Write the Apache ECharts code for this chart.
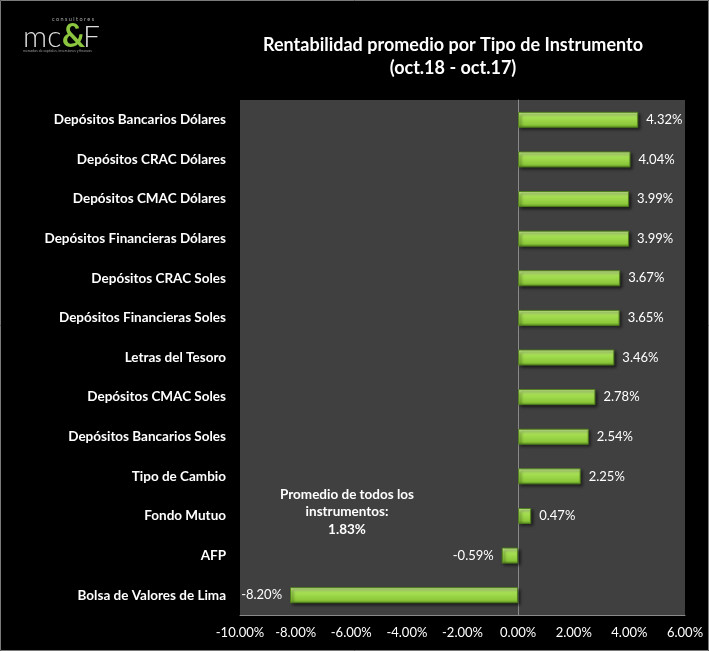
<!DOCTYPE html>
<html>
<head>
<meta charset="utf-8">
<style>
  html, body { margin: 0; padding: 0; background: #000; }
  #chart { width: 709px; height: 651px; }
</style>
<script src="https://cdn.jsdelivr.net/npm/echarts@6/dist/echarts.min.js"></script>
</head>
<body>
<div id="chart"></div>
<script>
const myChart = echarts.init(document.getElementById('chart'));

// categorias, de arriba hacia abajo
const instrumentos = [
  'Depósitos Bancarios Dólares',
  'Depósitos CRAC Dólares',
  'Depósitos CMAC Dólares',
  'Depósitos Financieras Dólares',
  'Depósitos CRAC Soles',
  'Depósitos Financieras Soles',
  'Letras del Tesoro',
  'Depósitos CMAC Soles',
  'Depósitos Bancarios Soles',
  'Tipo de Cambio',
  'Fondo Mutuo',
  'AFP',
  'Bolsa de Valores de Lima'
];
const rentabilidad = [4.32, 4.04, 3.99, 3.99, 3.67, 3.65, 3.46, 2.78, 2.54, 2.25, 0.47, -0.59, -8.20];
const promedio = 1.83;

const barColor = {
  type: 'linear', x: 0, y: 0, x2: 0, y2: 1,
  colorStops: [
    { offset: 0, color: '#d2f59a' },
    { offset: 0.35, color: '#a6e052' },
    { offset: 0.8, color: '#8cc83a' },
    { offset: 1, color: '#5f9422' }
  ]
};

let option = {
  backgroundColor: '#000000',
  textStyle: { fontFamily: 'Lato' },
  title: {
    text: 'Rentabilidad promedio por Tipo de Instrumento\n(oct.18 - oct.17)',
    left: 448,
    top: 29,
    textAlign: 'center',
    textStyle: { color: '#ffffff', fontSize: 18, fontWeight: 'bold', lineHeight: 23, fontFamily: 'Lato' }
  },
  grid: {
    left: 240, right: 24, top: 100, bottom: 36,
    show: true, backgroundColor: '#404040', borderWidth: 0
  },
  xAxis: {
    type: 'value',
    min: -10, max: 6, interval: 2,
    splitLine: { show: false },
    axisLine: { show: true, onZero: false, lineStyle: { color: '#8a8a8a' } },
    axisTick: { show: false },
    axisLabel: {
      color: '#ffffff', fontSize: 13, margin: 11,
      formatter: v => v.toFixed(2) + '%'
    }
  },
  yAxis: {
    type: 'category',
    inverse: true,
    data: instrumentos,
    axisLine: { show: true, onZero: true, lineStyle: { color: '#8a8a8a' } },
    axisTick: { show: false },
    axisLabel: { show: false }
  },
  series: [
    {
      type: 'bar',
      // las negativas llevan la etiqueta a la izquierda
      data: rentabilidad.map(v => v < 0 ? { value: v, label: { position: 'left' } } : v),
      barWidth: 16,
      itemStyle: {
        color: barColor,
        borderColor: '#4f7d1c',
        borderWidth: 1,
        shadowColor: 'rgba(0,0,0,0.6)',
        shadowBlur: 3,
        shadowOffsetX: 2,
        shadowOffsetY: 2
      },
      label: {
        show: true,
        color: '#ffffff',
        fontSize: 13,
        distance: 8,
        position: 'right',
        formatter: p => p.value.toFixed(2) + '%'
      },
      z: 3
    }
  ]
};

myChart.setOption(option);

// etiquetas de categoria y textos extra
const graphics = instrumentos.map((nombre, i) => {
  const y = myChart.convertToPixel({ yAxisIndex: 0 }, i);
  return {
    type: 'text',
    x: 226, y: y,
    style: {
      text: nombre, fill: '#ffffff', font: 'bold 13.5px Lato',
      textAlign: 'right', textVerticalAlign: 'middle'
    }
  };
});

graphics.push({
  type: 'text',
  x: 347, y: 512,
  style: {
    text: 'Promedio de todos los\ninstrumentos:\n' + promedio.toFixed(2) + '%',
    fill: '#ffffff', font: 'bold 13.5px Lato', lineHeight: 17.5,
    textAlign: 'center', textVerticalAlign: 'middle'
  }
});

// logo
graphics.push(
  {
    type: 'text', x: 52, y: 19,
    style: { text: 'c o n s u l t o r e s', fill: '#aaaaaa', font: '5.5px Lato', textVerticalAlign: 'middle' }
  },
  {
    type: 'text', x: 23, y: 37,
    style: { text: 'mc', fill: '#dddddd', font: '300 30px Lato', textVerticalAlign: 'middle' }
  },
  {
    type: 'text', x: 62, y: 37,
    style: { text: '&', fill: '#8cc63f', font: 'bold 32px Lato', textVerticalAlign: 'middle' }
  },
  {
    type: 'text', x: 83, y: 37,
    style: { text: 'F', fill: '#dddddd', font: '300 30px Lato', textVerticalAlign: 'middle' }
  },
  {
    type: 'text', x: 23, y: 51,
    style: { text: 'mercados de capitales, inversiones y finanzas', fill: '#999999', font: '3.5px Lato', textVerticalAlign: 'middle' }
  },
  {
    type: 'rect', shape: { x: 0.5, y: 0.5, width: 708, height: 650 },
    style: { fill: 'none', stroke: '#7a7a7a', lineWidth: 1 }, z: 10
  }
);

myChart.setOption({ graphic: graphics });
</script>
</body>
</html>
